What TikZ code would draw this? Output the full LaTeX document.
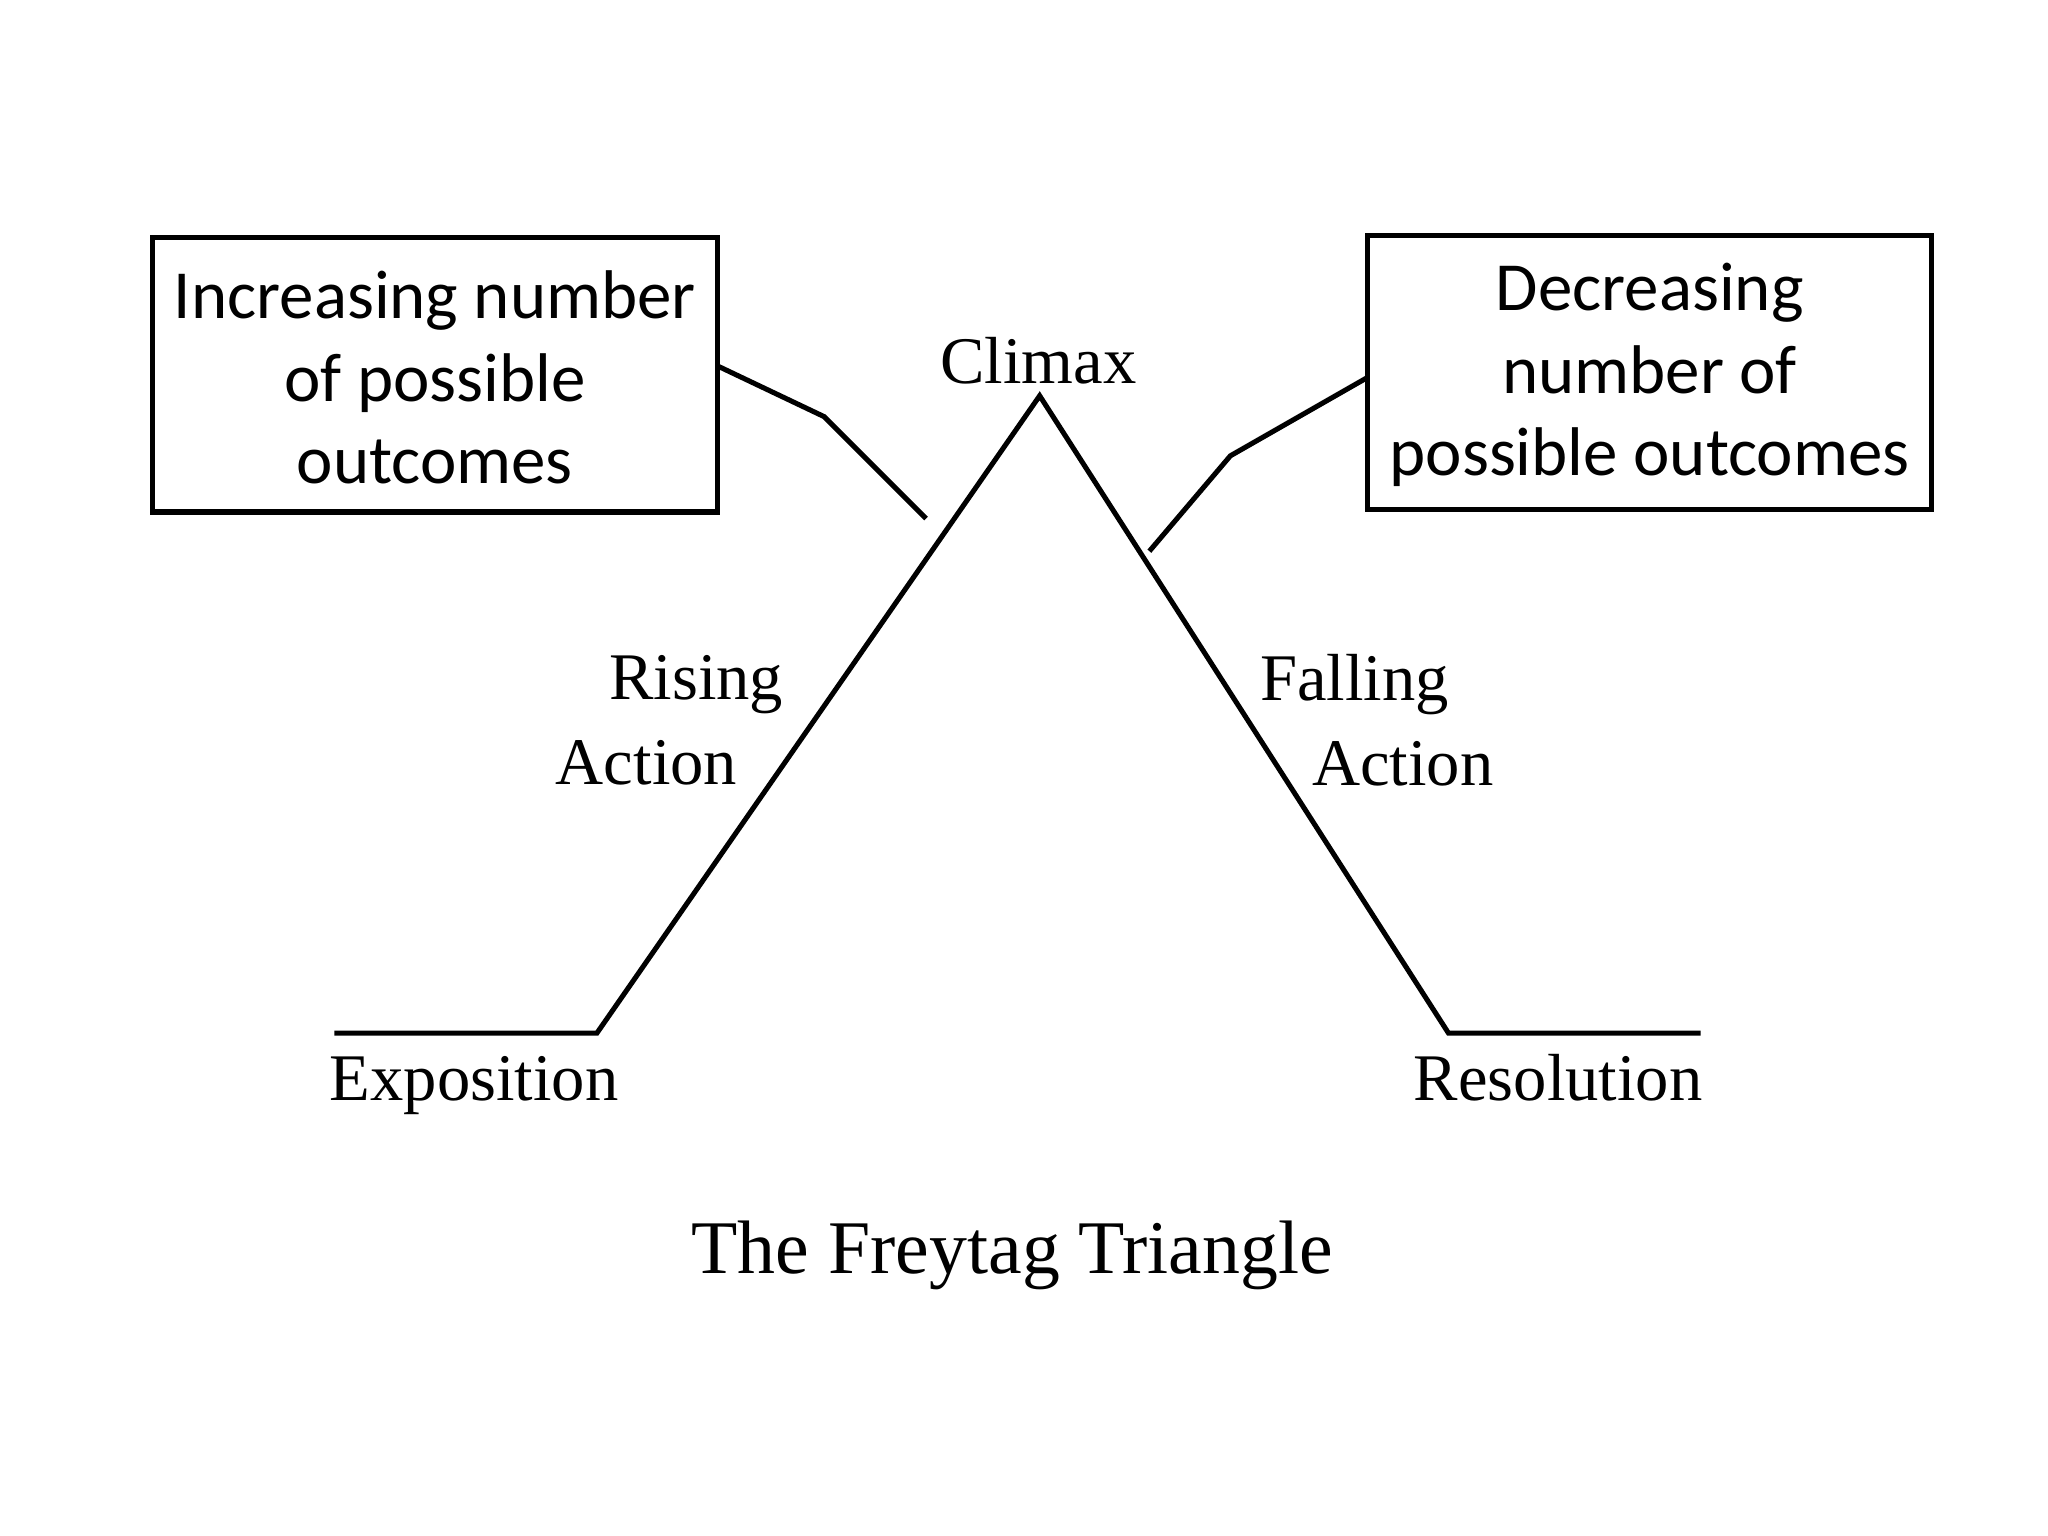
\documentclass[tikz,border=0pt]{standalone}
\usepackage{fontspec}
\setmainfont{Liberation Serif}
\newfontfamily\boxfont{Carlito}
\begin{document}
\begin{tikzpicture}[x=0.01cm,y=-0.01cm,
  lbl/.style={font=\fontsize{14.5}{17}\selectfont},
  bx/.style={draw,line width=1.1pt},
  btxt/.style={font=\boxfont\fontsize{15}{17.9}\selectfont,align=center},
  ln/.style={line width=1.1pt}]
\useasboundingbox (0,0) rectangle (1568,1176);
\draw[bx] (117,182) rectangle (549,392);
\draw[bx] (1047,180) rectangle (1479,390);
\node[btxt] (lt) at (333,289) {Increasing number\\of possible\\outcomes};
\node[btxt] (rt) at (1263,287) {Decreasing\\number of\\possible outcomes};
\coordinate (la) at (549,280); \coordinate (lb) at (631,319); \coordinate (lc) at (709,397);
\coordinate (ra) at (1047,289); \coordinate (rb) at (942,349); \coordinate (rc) at (880,422);
\draw[ln] (la)--(lb)--(lc);
\draw[ln] (ra)--(rb)--(rc);
\coordinate (e0) at (256,791); \coordinate (e1) at (457,791); \coordinate (top) at (796,303);
\coordinate (r1) at (1109,791); \coordinate (r2) at (1302,791);
\draw[ln] (e0)--(e1)--(top)--(r1)--(r2);
\node[lbl] (cl) at (795,276) {Climax};
\node[lbl] (ri) at (533,524) {Rising};
\node[lbl] (ra1) at (495,584) {Action};
\node[lbl] (fa) at (1037,524) {Falling};
\node[lbl] (fa2) at (1074,585) {Action};
\node[lbl] (ex) at (363,831) {Exposition};
\node[lbl] (re) at (1193,825) {Resolution};
\node[font=\fontsize{16.5}{19}\selectfont] (ti) at (775,961) {The Freytag Triangle};
\end{tikzpicture}
\end{document}
